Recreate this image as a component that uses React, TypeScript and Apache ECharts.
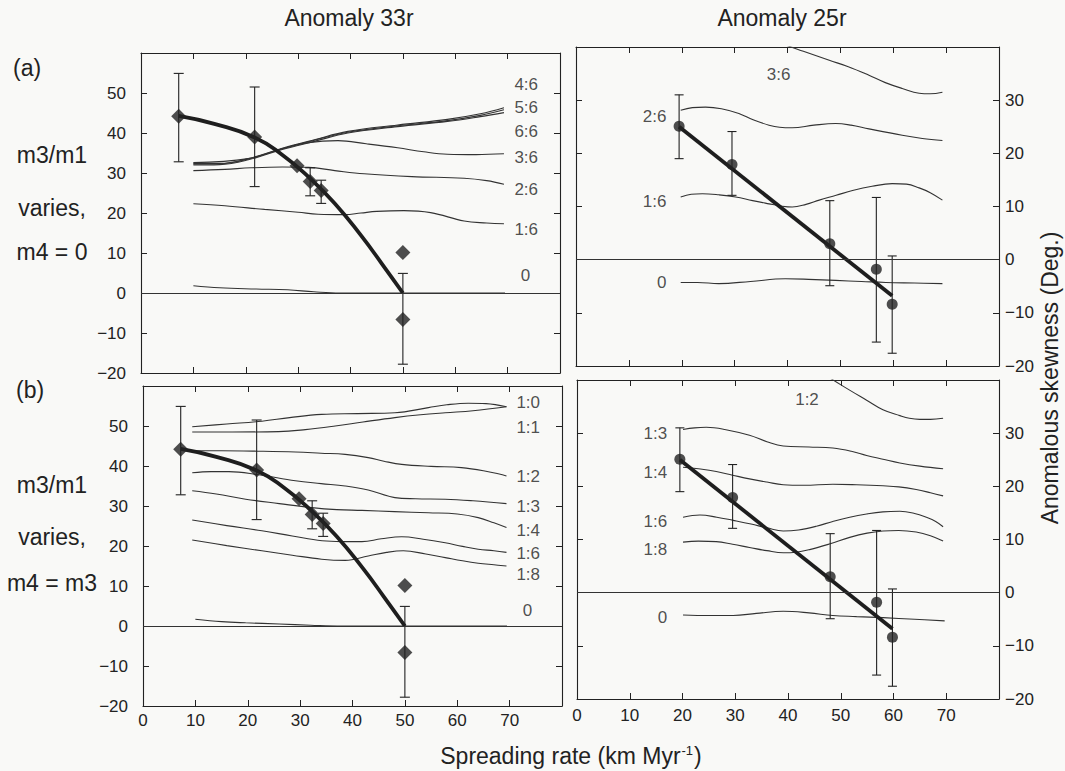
import { useEffect, useRef } from 'react';
import * as echarts from 'echarts';

type Pt = [number, number];

const INK = '#222222';
const LINE = '#333333';
const TEXT = '#222222';
const FONT = '"Liberation Sans", Arial, Helvetica, sans-serif';

// ---- Observed skewness (deg) vs spreading rate (km/Myr) ----
// Anomaly 33r
const rate33r = [7.2, 21.7, 29.8, 32.3, 34.4, 50, 50];
const skew33r = [44.2, 39.0, 31.8, 27.9, 25.6, 10.1, -6.6];
const err33rLow: (number | null)[] = [32.8, 26.6, null, 24.3, 22.4, null, -17.8];
const err33rHigh: (number | null)[] = [54.9, 51.5, null, 31.3, 28.2, null, 4.9];

// Anomaly 25r
const rate25r = [19.5, 29.5, 48.0, 56.8, 59.8];
const skew25r = [25.1, 17.9, 3.0, -1.8, -8.4];
const err25rLow = [19.0, 12.1, -4.9, -15.5, -17.6];
const err25rHigh = [31.0, 24.1, 11.1, 11.7, 0.7];

// Fitted trends through the observations
const fit33r: Pt[] = [
  [7.2, 44.3], [14, 42.3], [21.7, 38.9], [27, 34.5], [32, 29.0],
  [37, 22.4], [42, 14.4], [46, 7.3], [50, 0],
];
const fit25r: Pt[] = [[19.5, 25.0], [59.8, -6.8]];

// ---- Model curves, (a) m3/m1 varies, m4 = 0 — Anomaly 33r ----
const a33_46: Pt[] = [[10, 32.4], [15, 32.4], [20.5, 33.6], [26.8, 36.1], [33.1, 38.3], [39.5, 40.4], [49, 42.0], [58.5, 43.4], [64.8, 44.8], [69.3, 46.3]];
const a33_56: Pt[] = [[10, 32.2], [15, 32.3], [20.5, 33.5], [26.8, 36.0], [33.1, 38.2], [39.5, 40.2], [49, 41.8], [58.5, 43.1], [64.8, 44.4], [69.3, 45.8]];
const a33_66: Pt[] = [[10, 32.0], [15, 32.1], [20.5, 33.3], [26.8, 35.8], [33.1, 37.9], [39.5, 40.0], [49, 41.6], [58.5, 42.9], [64.8, 44.1], [69.3, 45.1]];
const a33_36: Pt[] = [[10, 32.6], [20.5, 33.6], [26.8, 36.0], [32, 37.6], [37.6, 38.1], [43, 37.3], [49, 36.3], [54, 35.3], [58.5, 34.7], [64, 34.6], [69.3, 34.8]];
const a33_26: Pt[] = [[10, 30.6], [16, 30.9], [21, 31.3], [27, 31.5], [32, 31.4], [37, 30.6], [42.6, 29.8], [51.7, 29.1], [61.7, 28.7], [66, 28.1], [69.3, 27.2]];
const a33_16: Pt[] = [[10, 22.3], [16, 21.8], [23.6, 20.9], [30, 20.2], [33.8, 19.7], [38.9, 19.6], [42, 20.0], [45, 20.4], [50.2, 20.6], [55.3, 20.1], [61.7, 18.0], [66, 17.5], [69.3, 17.3]];
const a33_0: Pt[] = [[10, 1.8], [15, 1.3], [22, 1.0], [28, 0.8], [33, 0.3], [38, 0], [69.5, 0]];

// ---- Model curves, (a) — Anomaly 25r ----
const a25_36: Pt[] = [[37, 41.5], [39.6, 40.4], [43, 39.2], [47.9, 37.5], [51.5, 36.3], [55.4, 34.7], [58.5, 33.3], [61.7, 32.2], [64.9, 31.3], [67, 31.2], [69.3, 31.5]];
const a25_26: Pt[] = [[19.8, 28.1], [22, 28.6], [24.5, 28.7], [27.5, 28.4], [30.8, 27.5], [33.5, 26.3], [36.5, 25.3], [38.5, 24.9], [40.9, 24.8], [45, 25.3], [49.1, 25.6], [52, 25.3], [55.4, 24.6], [61.7, 23.4], [65.5, 22.8], [69.3, 22.4]];
const a25_16: Pt[] = [[19.8, 11.8], [21.8, 12.3], [23.9, 12.4], [27, 12.2], [30.2, 11.8], [33.4, 11.1], [36.5, 10.5], [38.7, 10.1], [40.9, 9.9], [43.5, 10.4], [46, 11.2], [49.2, 12.1], [52.3, 13.0], [56, 13.8], [59.8, 14.3], [62.5, 14.2], [64.9, 13.5], [67, 12.6], [69.3, 11.2]];
const a25_0: Pt[] = [[19.8, -4.3], [23, -4.3], [27, -4.5], [33, -4.1], [39.6, -3.6], [44, -3.7], [49.1, -3.9], [54, -4.1], [58.6, -4.3], [64, -4.4], [69.3, -4.5]];

// ---- Model curves, (b) m3/m1 varies, m4 = m3 — Anomaly 33r ----
const b33_10: Pt[] = [[9.4, 49.8], [16, 50.5], [22.7, 51.2], [28, 52.1], [34.1, 52.9], [41, 53.1], [48.1, 53.3], [54.5, 54.6], [58, 55.3], [62.1, 55.7], [65.5, 55.6], [69.4, 54.8]];
const b33_11: Pt[] = [[9.4, 48.5], [17, 48.5], [25.9, 48.6], [31, 49.1], [36.7, 50.0], [42, 51.0], [48.1, 52.1], [53, 52.8], [57.7, 53.3], [63, 53.8], [69.4, 54.8]];
const b33_12: Pt[] = [[9.4, 43.8], [15, 43.8], [22, 43.7], [29.1, 43.5], [34, 43.2], [38.6, 42.9], [43, 42.1], [46, 41.2], [49.4, 40.4], [55, 39.9], [60.8, 39.6], [65, 38.8], [69.4, 37.5]];
const b33_13: Pt[] = [[9.4, 38.3], [13, 38.6], [16.4, 38.6], [22, 37.8], [29.1, 36.3], [34, 35.6], [38.6, 35.0], [43, 34.0], [48.1, 32.1], [52, 31.8], [57.7, 31.7], [63, 31.3], [69.4, 30.6]];
const b33_14: Pt[] = [[9.4, 33.8], [14, 33.0], [19.6, 31.7], [26, 30.6], [32.2, 29.6], [37, 29.1], [41.8, 28.9], [48, 28.6], [54.5, 28.3], [60, 28.0], [64, 27.1], [67, 25.8], [69.4, 24.6]];
const b33_16: Pt[] = [[9.4, 26.5], [16, 25.1], [22.7, 23.8], [28.5, 22.5], [34.2, 21.3], [38, 21.1], [41.8, 21.1], [45.5, 21.8], [49.4, 22.3], [53.5, 21.7], [57.7, 20.8], [61, 19.9], [64, 19.2], [67, 18.8], [69.4, 18.4]];
const b33_18: Pt[] = [[9.4, 21.5], [16, 20.1], [22.7, 18.8], [28.5, 17.7], [34.1, 16.7], [38.6, 16.4], [43, 17.5], [46.5, 18.4], [49.7, 18.8], [54, 18.0], [57.7, 17.1], [61, 16.3], [64, 15.7], [67, 15.3], [69.4, 15.0]];
const b33_0: Pt[] = [[10, 1.7], [15, 1.1], [19.6, 0.8], [26, 0.5], [32, 0.2], [38, 0], [69.5, 0]];

// ---- Model curves, (b) — Anomaly 25r ----
const b25_12: Pt[] = [[45.5, 42.0], [47.3, 40.8], [50.5, 38.8], [54.9, 36.2], [58, 34.4], [61.2, 33.3], [63, 32.8], [65, 32.6], [67, 32.6], [69.4, 32.8]];
const b25_13: Pt[] = [[20.1, 30.7], [22.3, 31.0], [24.5, 31.1], [28, 30.7], [32.7, 29.6], [36, 28.4], [39.1, 27.6], [44, 27.4], [48.5, 27.2], [52, 26.6], [54.9, 25.8], [58, 25.1], [61.2, 24.4], [65, 23.8], [69.4, 23.3]];
const b25_14: Pt[] = [[20.1, 23.6], [23, 23.3], [26.4, 22.8], [29.5, 22.1], [32.7, 21.4], [36, 20.8], [39.1, 20.3], [43, 20.2], [48.5, 20.4], [53, 20.3], [58, 20.1], [61, 19.9], [64.3, 19.4], [67, 18.8], [69.4, 18.2]];
const b25_16: Pt[] = [[20.1, 14.2], [23.3, 14.6], [26.5, 14.2], [29.6, 13.6], [33, 12.9], [36, 12.2], [39.1, 11.6], [42, 11.8], [45.4, 12.5], [48.5, 13.4], [51.7, 14.2], [54.9, 14.8], [58, 15.2], [61.2, 15.3], [64, 14.9], [66.2, 14.2], [68, 13.4], [69.4, 12.4]];
const b25_18: Pt[] = [[20.1, 9.5], [23, 9.7], [26.4, 9.6], [29.5, 9.1], [32.7, 8.5], [36, 7.9], [39.1, 7.5], [41.5, 7.6], [44.1, 8.1], [48, 9.2], [51.7, 10.4], [55, 11.2], [58, 11.6], [61, 11.7], [64.3, 11.4], [67, 10.7], [69.4, 9.7]];
const b25_0: Pt[] = [[20.1, -4.2], [25, -4.3], [29.6, -4.3], [34, -3.9], [39.1, -3.5], [44, -3.8], [48.5, -4.3], [53, -4.5], [58, -4.7], [64, -5.0], [69.7, -5.3]];

// ---- Curve annotations: [rate, skewness, text] ----
type Lbl = [number, number, string];
const labelsA33: Lbl[] = [[71.2, 52.2, '4:6'], [71.2, 46.4, '5:6'], [71.2, 40.5, '6:6'], [71.2, 33.8, '3:6'], [71.2, 25.9, '2:6'], [71.2, 16.0, '1:6'], [72.4, 4.3, '0']];
const labelsB33: Lbl[] = [[71.2, 55.8, '1:0'], [71.2, 49.6, '1:1'], [71.2, 37.5, '1:2'], [71.2, 30.0, '1:3'], [71.2, 23.8, '1:4'], [71.2, 18.1, '1:6'], [71.2, 12.8, '1:8'], [72.4, 3.9, '0']];
const labelsA25Side: Lbl[] = [[17.2, 27.0, '2:6'], [17.2, 11.0, '1:6'], [17.2, -4.3, '0']];
const labelsA25Top: Lbl[] = [[38.3, 34.8, '3:6']];
const labelsB25Side: Lbl[] = [[17.2, 30.0, '1:3'], [17.2, 22.6, '1:4'], [17.2, 13.4, '1:6'], [17.2, 8.1, '1:8'], [17.2, -4.6, '0']];
const labelsB25Top: Lbl[] = [[43.6, 36.4, '1:2']];

const panelTitles = ['Anomaly 33r', 'Anomaly 25r'];
const rowLabels = [
  ['(a)', 'm3/m1', 'varies,', 'm4 = 0'],
  ['(b)', 'm3/m1', 'varies,', 'm4 = m3'],
];
const xTitle = 'Spreading rate (km Myr';
const yTitle = 'Anomalous skewness (Deg.)';

// Panel frames: 0 = (a) 33r, 1 = (a) 25r, 2 = (b) 33r, 3 = (b) 25r
const GRIDS = [
  { left: 141, top: 53, width: 419, height: 320 },
  { left: 576, top: 47, width: 423, height: 319 },
  { left: 143, top: 386, width: 419, height: 320 },
  { left: 577, top: 380, width: 422, height: 319 },
];
const Y_RANGE: [number, number][] = [[-20, 60], [-20, 40], [-20, 60], [-20, 40]];

const fmtTick = (max: number) => (v: number) => {
  if (v >= max) return '';
  return v < 0 ? '\u2212' + Math.abs(v) : String(v);
};

function errorBars(cap: number) {
  return (_params: any, api: any) => {
    const x = api.value(0);
    const top = api.coord([x, api.value(2)]);
    const bot = api.coord([x, api.value(1)]);
    const style = { stroke: INK, lineWidth: 1.1 };
    return {
      type: 'group',
      children: [
        { type: 'line', shape: { x1: top[0], y1: top[1], x2: bot[0], y2: bot[1] }, style },
        { type: 'line', shape: { x1: top[0] - cap, y1: top[1], x2: top[0] + cap, y2: top[1] }, style },
        { type: 'line', shape: { x1: bot[0] - cap, y1: bot[1], x2: bot[0] + cap, y2: bot[1] }, style },
      ],
    };
  };
}

function curveSeries(g: number, curves: Pt[][]) {
  return curves.map((data) => ({
    type: 'line',
    xAxisIndex: g,
    yAxisIndex: g,
    data,
    smooth: 0.4,
    symbol: 'none',
    clip: true,
    silent: true,
    z: 2,
    lineStyle: { color: LINE, width: 1.1 },
  }));
}

function labelSeries(g: number, labels: Lbl[], position: string) {
  return {
    type: 'scatter',
    xAxisIndex: g,
    yAxisIndex: g,
    data: labels,
    symbolSize: 1,
    silent: true,
    z: 6,
    itemStyle: { color: 'rgba(0,0,0,0)' },
    label: {
      show: true,
      position,
      distance: 0,
      formatter: (p: any) => p.data[2],
      color: TEXT,
      fontFamily: FONT,
      fontSize: 17,
    },
  };
}

function panelSeries(
  g: number,
  rate: number[],
  skew: number[],
  lo: (number | null)[],
  hi: (number | null)[],
  fit: Pt[],
  symbol: string,
  symbolSize: number,
  cap: number,
) {
  const bars = rate
    .map((x, i) => [x, lo[i], hi[i]])
    .filter((d) => d[1] !== null && d[2] !== null);
  return [
    {
      type: 'custom',
      xAxisIndex: g,
      yAxisIndex: g,
      data: bars,
      renderItem: errorBars(cap),
      silent: true,
      z: 3,
    },
    {
      type: 'line',
      xAxisIndex: g,
      yAxisIndex: g,
      data: fit,
      smooth: 0.5,
      symbol: 'none',
      silent: true,
      z: 4,
      lineStyle: { color: '#1e1e1e', width: 3.8 },
      markLine: {
        silent: true,
        symbol: ['none', 'none'],
        label: { show: false },
        lineStyle: { color: LINE, width: 1.1, type: 'solid' },
        data: [{ yAxis: 0 }],
      },
    },
    {
      type: 'scatter',
      xAxisIndex: g,
      yAxisIndex: g,
      data: rate.map((x, i) => [x, skew[i]]),
      symbol,
      symbolSize,
      silent: true,
      z: 5,
      itemStyle: { color: INK },
    },
  ];
}

export default function App() {
  const ref = useRef<HTMLDivElement>(null);

  useEffect(() => {
    if (!ref.current) return;
    const chart = echarts.init(ref.current, undefined, { renderer: 'svg' });

    const axisLine = { show: true, onZero: false, lineStyle: { color: INK, width: 1.1 } };
    const axisTick = { show: true, inside: true, length: 6, lineStyle: { color: INK, width: 1 } };
    const labelStyle = { color: TEXT, fontFamily: FONT, fontSize: 17 };

    const xAxis: any[] = [];
    const yAxis: any[] = [];
    for (const pos of ['bottom', 'top']) {
      GRIDS.forEach((_, g) => {
        xAxis.push({
          gridIndex: g,
          type: 'value',
          position: pos,
          min: 0,
          max: 80,
          interval: 10,
          axisLine,
          axisTick,
          splitLine: { show: false },
          axisLabel: {
            show: pos === 'bottom' && g >= 2,
            margin: g === 3 ? 8 : 6,
            formatter: fmtTick(80),
            ...labelStyle,
          },
        });
      });
    }
    for (const pos of ['left', 'right']) {
      GRIDS.forEach((_, g) => {
        const [mn, mx] = Y_RANGE[g];
        const leftPanel = g === 0 || g === 2;
        const showLbl = (pos === 'left') === leftPanel;
        yAxis.push({
          gridIndex: g,
          type: 'value',
          position: pos,
          min: mn,
          max: mx,
          interval: 10,
          axisLine,
          axisTick,
          splitLine: { show: false },
          axisLabel: {
            show: showLbl,
            margin: pos === 'left' ? 15 : 6,
            formatter: fmtTick(mx),
            ...labelStyle,
          },
        });
      });
    }

    const series: any[] = [
      ...curveSeries(0, [a33_46, a33_56, a33_66, a33_36, a33_26, a33_16, a33_0]),
      ...curveSeries(1, [a25_36, a25_26, a25_16, a25_0]),
      ...curveSeries(2, [b33_10, b33_11, b33_12, b33_13, b33_14, b33_16, b33_18, b33_0]),
      ...curveSeries(3, [b25_12, b25_13, b25_14, b25_16, b25_18, b25_0]),
      ...panelSeries(0, rate33r, skew33r, err33rLow, err33rHigh, fit33r, 'diamond', 15, 5),
      ...panelSeries(1, rate25r, skew25r, err25rLow, err25rHigh, fit25r, 'circle', 11, 4.5),
      ...panelSeries(2, rate33r, skew33r, err33rLow, err33rHigh, fit33r, 'diamond', 15, 5),
      ...panelSeries(3, rate25r, skew25r, err25rLow, err25rHigh, fit25r, 'circle', 11, 4.5),
      labelSeries(0, labelsA33, 'right'),
      labelSeries(2, labelsB33, 'right'),
      labelSeries(1, labelsA25Side, 'left'),
      labelSeries(1, labelsA25Top, 'inside'),
      labelSeries(3, labelsB25Side, 'left'),
      labelSeries(3, labelsB25Top, 'inside'),
    ];

    const bigText = (text: string, x: number, y: number, align: string, extra: any = {}) => ({
      type: 'text',
      x,
      y,
      silent: true,
      ...extra,
      style: {
        text,
        fill: TEXT,
        font: `23px ${FONT}`,
        align,
        textAlign: align,
        verticalAlign: 'middle',
        textVerticalAlign: 'middle',
      },
    });

    const rowY = [
      [68, 155, 208, 252],
      [390, 485, 537, 583],
    ];
    const graphic: any[] = [
      bigText(panelTitles[0], 349, 18, 'center'),
      bigText(panelTitles[1], 782, 18, 'center'),
      bigText(yTitle, 1050, 378, 'center', { rotation: Math.PI / 2 }),
    ];
    rowLabels.forEach((row, r) => {
      row.forEach((t, i) => {
        if (i === 0) graphic.push(bigText(t, r === 0 ? 13 : 16, rowY[r][i], 'left'));
        else graphic.push(bigText(t, 52, rowY[r][i], 'center'));
      });
    });
    graphic.push({
      type: 'text',
      x: 571,
      y: 756,
      silent: true,
      style: {
        text: `{b|${xTitle}}{s|-1}{b|)}`,
        align: 'center',
        textAlign: 'center',
        verticalAlign: 'middle',
        textVerticalAlign: 'middle',
        rich: {
          b: { fontFamily: FONT, fontSize: 23, color: TEXT, fill: TEXT, lineHeight: 24 },
          s: { fontFamily: FONT, fontSize: 13, color: TEXT, fill: TEXT, lineHeight: 24, verticalAlign: 'top', padding: [0, 1, 8, 1] },
        },
      },
    });

    chart.setOption({
      animation: false,
      backgroundColor: '#f9f9f7',
      grid: GRIDS.map((g) => ({ ...g, containLabel: false })),
      xAxis,
      yAxis,
      series,
      graphic,
    });

    return () => chart.dispose();
  }, []);

  return (
    <div
      ref={ref}
      style={{ position: 'fixed', left: 0, top: 0, width: 1065, height: 771 }}
    />
  );
}
